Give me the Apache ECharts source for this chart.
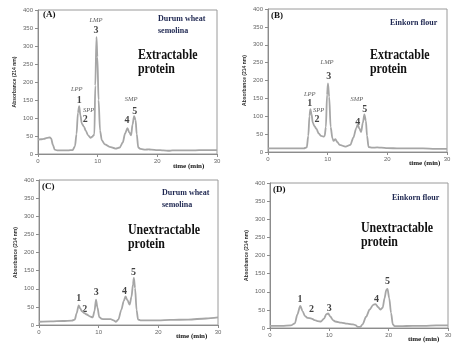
<!DOCTYPE html>
<html>
<head>
<meta charset="utf-8">
<script src="https://cdn.jsdelivr.net/npm/echarts@6/dist/echarts.min.js"></script>
<style>
html,body{margin:0;padding:0;background:#fff;}
#chart{width:459px;height:348px;}
</style>
</head>
<body>
<div id="chart"></div>
<script>
// axis ticks (shared by all four panels)
const timeTicks = [0, 10, 20, 30];
const absMax = 400;
const absStep = 50;

// chromatograms: [time (min), absorbance (214 nm)]
const traceA = [[0,40],[0.5,41],[1,42],[1.5,45],[2,46],[2.2,43],[2.5,25],[2.8,12],[3.2,10],[4,10],[5,10],[5.8,11],[6.2,22],[6.45,55],[6.7,115],[6.9,133],[7.1,108],[7.35,84],[7.7,76],[8,65],[8.4,52],[8.8,45],[9.1,48],[9.3,52],[9.45,55],[9.6,190],[9.8,325],[9.95,270],[10.15,150],[10.4,65],[10.7,38],[11.2,27],[12,20],[13,15],[13.7,18],[14.2,32],[14.6,57],[15,72],[15.3,60],[15.6,52],[15.85,82],[16.1,105],[16.35,95],[16.55,55],[16.8,18],[17.2,14],[18,12],[18.5,13],[19,12],[20,11],[21,10],[22,9],[22.5,10],[24,10],[26,10],[28,11],[30,11]];
const traceB = [[0,10],[2,10],[4,10],[6,10],[6.5,13],[6.75,45],[6.95,100],[7.1,120],[7.3,106],[7.5,82],[7.8,72],[8.1,65],[8.5,52],[8.9,45],[9.3,43],[9.5,45],[9.7,70],[9.9,160],[10.05,192],[10.25,155],[10.5,70],[10.8,38],[11,31],[11.3,36],[11.6,28],[12,20],[13,15],[13.8,20],[14.3,40],[14.8,67],[15.05,77],[15.3,66],[15.6,56],[15.9,82],[16.15,105],[16.4,88],[16.6,45],[16.85,14],[17.5,12],[18.3,13],[19,12],[20,11],[22,10],[24,10],[26,10],[28,9],[30,9]];
const traceC = [[0,9],[2,10],[4,11],[5.5,12],[6,15],[6.3,32],[6.65,54],[6.9,46],[7.2,38],[7.6,33],[8,29],[8.5,24],[9,21],[9.3,38],[9.55,70],[9.8,48],[10.1,22],[10.5,17],[11,16],[12,16],[12.5,13],[12.9,9],[13.3,15],[13.8,42],[14.2,66],[14.5,79],[14.8,69],[15.2,56],[15.5,78],[15.75,112],[15.9,130],[16.1,102],[16.35,42],[16.6,15],[17,13],[18,13],[20,13],[22,14],[25,15],[28,18],[30,21]];
const traceD = [[0,6],[2,6],[3.5,7],[4.2,13],[4.6,37],[5.1,61],[5.5,46],[5.9,33],[6.3,28],[7,26],[7.5,22],[8,19],[8.6,18],[9.1,26],[9.5,38],[9.8,40],[10.2,31],[10.6,22],[11,18],[12,15],[13,12],[14,10],[14.4,8],[14.8,3],[15.2,3],[15.6,10],[16.2,31],[16.8,51],[17.4,64],[17.8,66],[18.2,58],[18.6,51],[19,56],[19.3,82],[19.6,105],[19.8,108],[20.1,82],[20.4,42],[20.7,10],[21,5],[22,5],[24,6],[26,6],[28,7],[30,7]];

// peak numbers and fraction names: [time, absorbance, text]
const peaksA = [[6.9,150,'1'],[7.9,97,'2'],[9.7,344,'3'],[14.9,92,'4'],[16.2,119,'5']];
const namesA = [[6.5,180,'LPP'],[8.5,122,'SPP'],[9.7,372,'LMP'],[15.6,153,'SMP']];
const peaksB = [[7.0,135,'1'],[8.2,91,'2'],[10.2,212,'3'],[15.05,84,'4'],[16.2,120,'5']];
const namesB = [[7.0,161,'LPP'],[8.5,117,'SPP'],[9.9,250,'LMP'],[14.9,147,'SMP']];
const peaksC = [[6.65,73,'1'],[7.65,43,'2'],[9.6,91,'3'],[14.35,92,'4'],[15.85,145,'5']];
const peaksD = [[5.05,80,'1'],[7.0,51,'2'],[10.0,54,'3'],[17.95,78,'4'],[19.8,128,'5']];

const panels = [
    {trace:traceA, peaks:peaksA, names:namesA, grid:{left:38,top:10,width:179,height:144}},
    {trace:traceB, peaks:peaksB, names:namesB, grid:{left:268,top:9,width:179,height:143}},
    {trace:traceC, peaks:peaksC, names:[], grid:{left:39,top:180,width:179,height:145}},
    {trace:traceD, peaks:peaksD, names:[], grid:{left:270,top:183,width:178,height:145}}
];

const serif = '"Liberation Serif", "Times New Roman", serif';
const sans = '"Liberation Sans", Arial, sans-serif';

const chart = echarts.init(document.getElementById('chart'));

const grids = [], xAxes = [], yAxes = [], series = [];

panels.forEach((p, i) => {
    grids.push(Object.assign({show:true, borderColor:'#9a9a9a', borderWidth:1, backgroundColor:'transparent'}, p.grid));
    xAxes.push({
        gridIndex:i, type:'value', min:timeTicks[0], max:timeTicks[timeTicks.length-1],
        interval:timeTicks[1]-timeTicks[0],
        axisLine:{lineStyle:{color:'#8c8c8c', width:1}},
        axisTick:{show:true, length:3, lineStyle:{color:'#8c8c8c'}},
        axisLabel:{fontSize:6, color:'#666', margin:4, fontFamily:sans},
        splitLine:{show:false}
    });
    yAxes.push({
        gridIndex:i, type:'value', min:0, max:absMax, interval:absStep,
        name:'Absorbance (214 nm)', nameLocation:'middle', nameGap:21,
        nameTextStyle:{fontSize:5, fontWeight:'bold', color:'#333', fontFamily:sans},
        axisLine:{show:true, lineStyle:{color:'#8c8c8c', width:1}},
        axisTick:{show:true, length:3, lineStyle:{color:'#8c8c8c'}},
        axisLabel:{fontSize:6, color:'#666', margin:5, fontFamily:sans},
        splitLine:{show:false}
    });
    series.push({
        type:'line', xAxisIndex:i, yAxisIndex:i, data:p.trace,
        showSymbol:false, smooth:0.3, smoothMonotone:'x',
        lineStyle:{color:'#a6a6a6', width:1.8}, silent:true
    });
    series.push({
        type:'scatter', xAxisIndex:i, yAxisIndex:i, data:p.peaks,
        symbolSize:1, itemStyle:{color:'rgba(0,0,0,0)'}, silent:true,
        label:{show:true, position:'inside', formatter:d => d.value[2],
            fontFamily:serif, fontWeight:'bold', fontSize:10, color:'#111'}
    });
    series.push({
        type:'scatter', xAxisIndex:i, yAxisIndex:i, data:p.names,
        symbolSize:1, itemStyle:{color:'rgba(0,0,0,0)'}, silent:true,
        label:{show:true, position:'inside', formatter:d => d.value[2],
            fontFamily:serif, fontStyle:'italic', fontSize:6.5, color:'#333'}
    });
});

function txt(x, y, text, size, opts) {
    opts = opts || {};
    return {
        type:'text', x:x, y:y, scaleX:opts.scaleX || 1, silent:true,
        style:{text:text, fontFamily:serif, fontWeight:'bold', fontSize:size,
            fill:opts.color || '#111', verticalAlign:'middle', align:'left'}
    };
}

const navy = '#1d2650';
const graphic = [
    txt(43,15,'(A)',9), txt(158,19,'Durum wheat',8,{color:navy}), txt(158,31,'semolina',8,{color:navy}),
    txt(138,55,'Extractable',14,{scaleX:0.85}), txt(138,69,'protein',14,{scaleX:0.85}),
    txt(173,166,'time (min)',7),

    txt(271,16,'(B)',9), txt(390,23,'Einkorn flour',8,{color:navy}),
    txt(370,55,'Extractable',14,{scaleX:0.85}), txt(370,69,'protein',14,{scaleX:0.85}),
    txt(409,163,'time (min)',7),

    txt(42,187,'(C)',9), txt(162,193,'Durum wheat',8,{color:navy}), txt(162,205,'semolina',8,{color:navy}),
    txt(128,230,'Unextractable',14,{scaleX:0.85}), txt(128,244,'protein',14,{scaleX:0.85}),
    txt(176,336,'time (min)',7),

    txt(273,190,'(D)',9), txt(392,198,'Einkorn flour',8,{color:navy}),
    txt(361,228,'Unextractable',14,{scaleX:0.85}), txt(361,242,'protein',14,{scaleX:0.85}),
    txt(408,339,'time (min)',7)
];

chart.setOption({
    animation:false,
    backgroundColor:'#fff',
    grid:grids,
    xAxis:xAxes,
    yAxis:yAxes,
    series:series,
    graphic:graphic
});

window.addEventListener('resize', () => chart.resize());
</script>
</body>
</html>
